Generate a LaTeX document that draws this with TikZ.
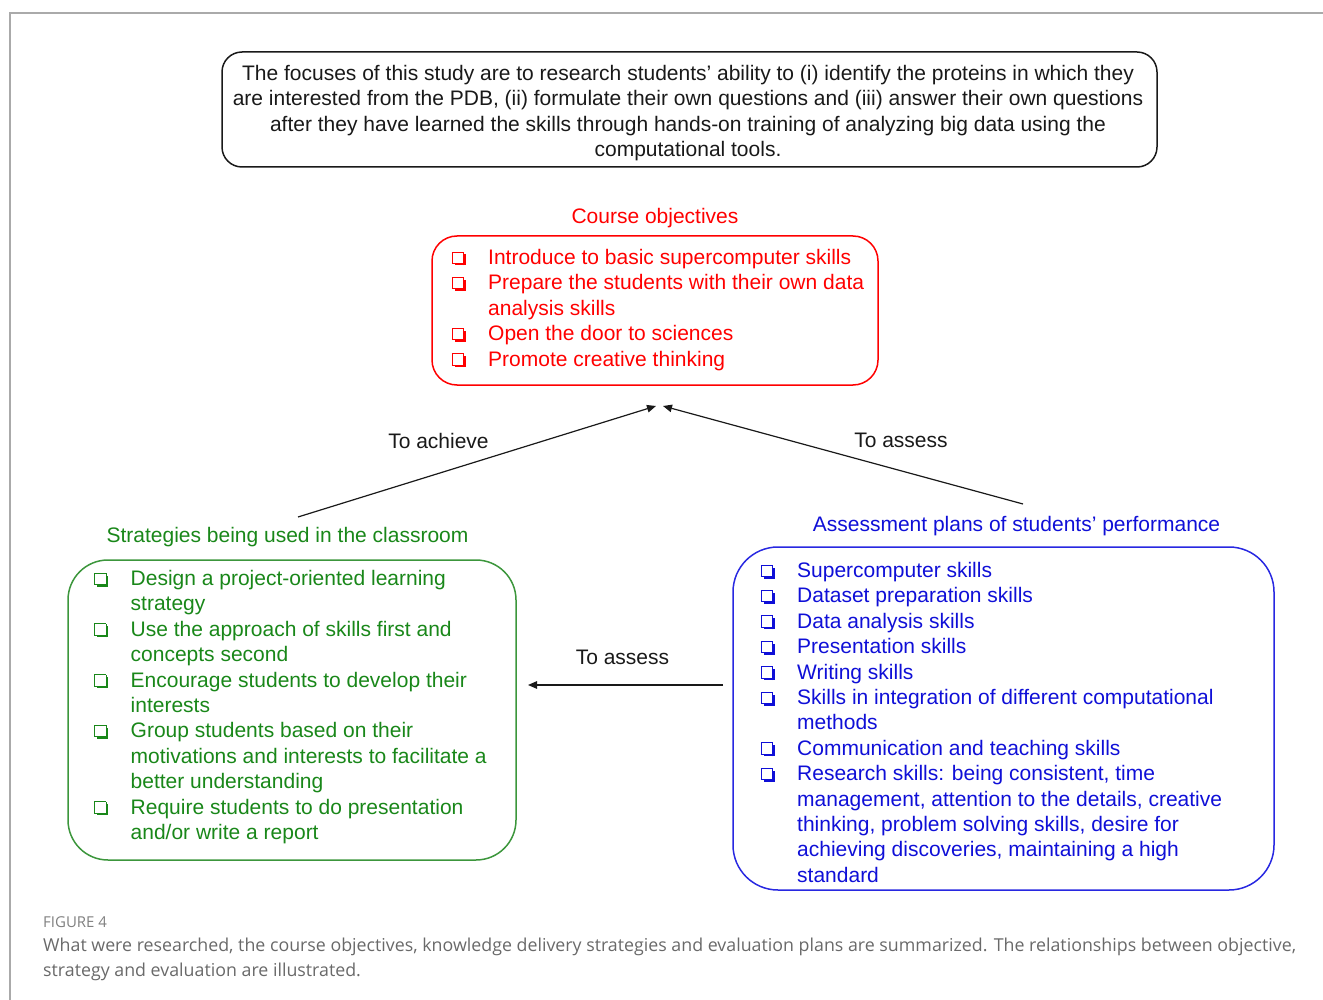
\documentclass[tikz,border=0pt]{standalone}
\usepackage{fontspec}
\setmainfont{Liberation Sans}
\newfontfamily\capfont{Open Sans}
\usetikzlibrary{arrows.meta}
\definecolor{objred}{RGB}{255,0,0}
\definecolor{strgreen}{RGB}{25,135,25}
\definecolor{strgreenb}{RGB}{60,150,60}
\definecolor{asblue}{RGB}{15,15,215}
\definecolor{asblueb}{RGB}{40,40,225}
\definecolor{framegray}{RGB}{170,170,170}
\definecolor{capgray}{RGB}{105,105,105}
\definecolor{txtdark}{RGB}{25,25,25}
\newcommand\sqbullet{{\setlength{\unitlength}{1pt}\setlength{\fboxrule}{1.4pt}\setlength{\fboxsep}{0pt}%
\raisebox{-1pt}{\begin{picture}(13.5,13.5)%
\put(0,2.5){\framebox(11,11){}}%
\put(11,0){\rule{2.5pt}{11pt}}%
\put(2.5,0){\rule{11pt}{2.5pt}}%
\end{picture}}}}
\newcommand\bl{\makebox[36pt][l]{\sqbullet}}
\newcommand\nb{\hspace*{36pt}}
\tikzset{
  mainfont/.style={font=\fontsize{21}{25.4}\selectfont},
  roundbox/.style={draw, line width=1.5pt, rectangle, inner sep=0pt},
  listtext/.style={mainfont, inner sep=0pt, anchor=base west},
  title/.style={mainfont, inner sep=0pt, anchor=base},
  lbl/.style={mainfont, inner sep=0pt, anchor=base, text=txtdark},
  conn/.style={draw=txtdark, line width=1.2pt, -{Triangle[length=9pt,width=7.5pt]}},
}
\begin{document}
\begin{tikzpicture}[x=1pt,y=-1pt]
\useasboundingbox (0,0) rectangle (1323,1000);
% frame
\draw[framegray, line width=1.5pt] (10,1000) -- (10,13) -- (1323,13);
% top box
\node[roundbox, draw=txtdark, rounded corners=20pt, minimum width=935pt, minimum height=115pt] (topbox) at (689.5,109.5) {};
\node[mainfont, inner sep=0pt, anchor=base, text=txtdark] (toptext) at (688,80.5) {\begin{tabular}[t]{@{}c@{}}
The focuses of this study are to research students’ ability to (i) identify the proteins in which they\\
are interested from the PDB, (ii) formulate their own questions and (iii) answer their own questions\\
after they have learned the skills through hands-on training of analyzing big data using the\\
computational tools.\end{tabular}};
% course objectives
\node[title, text=objred] (redtitle) at (655,223.5) {Course objectives};
\node[roundbox, draw=objred, rounded corners=25pt, minimum width=446pt, minimum height=149pt] (redbox) at (655,310.5) {};
\node[listtext, text=objred] (redlist) at (452,264.5) {\begin{tabular}[t]{@{}l@{}}
\bl Introduce to basic supercomputer skills\\
\bl Prepare the students with their own data\\
\nb analysis skills\\
\bl Open the door to sciences\\
\bl Promote creative thinking\end{tabular}};
% strategies
\node[title, text=strgreen] (greentitle) at (287.5,542.5) {Strategies being used in the classroom};
\node[roundbox, draw=strgreenb, rounded corners=40pt, minimum width=448pt, minimum height=300pt] (greenbox) at (292,710) {};
\node[listtext, text=strgreen] (greenlist) at (94.5,585.5) {\begin{tabular}[t]{@{}l@{}}
\bl Design a project-oriented learning\\
\nb strategy\\
\bl Use the approach of skills first and\\
\nb concepts second\\
\bl Encourage students to develop their\\
\nb interests\\
\bl Group students based on their\\
\nb motivations and interests to facilitate a\\
\nb better understanding\\
\bl Require students to do presentation\\
\nb and/or write a report\end{tabular}};
% assessment
\node[title, text=asblue] (bluetitle) at (1016.5,531.5) {Assessment plans of students’ performance};
\node[roundbox, draw=asblueb, rounded corners=45pt, minimum width=541pt, minimum height=343pt] (bluebox) at (1003.5,718.5) {};
\node[listtext, text=asblue] (bluelist) at (761,577.5) {\begin{tabular}[t]{@{}l@{}}
\bl Supercomputer skills\\
\bl Dataset preparation skills\\
\bl Data analysis skills\\
\bl Presentation skills\\
\bl Writing skills\\
\bl Skills in integration of different computational\\
\nb methods\\
\bl Communication and teaching skills\\
\bl Research skills: being consistent, time\\
\nb management, attention to the details, creative\\
\nb thinking, problem solving skills, desire for\\
\nb achieving discoveries, maintaining a high\\
\nb standard\end{tabular}};
% connectors
\coordinate (achstart) at (298,517);
\coordinate (achend) at (656,406);
\coordinate (asstart) at (1023,504);
\coordinate (asend) at (663,406);
\coordinate (midstart) at (723,685);
\coordinate (midend) at (528,685);
\draw[conn] (achstart) -- (achend);
\draw[conn] (asstart) -- (asend);
\draw[conn] (midstart) -- (midend);
\node[lbl] (lachieve) at (438.5,448.5) {To achieve};
\node[lbl] (lassess1) at (901,447.5) {To assess};
\node[lbl] (lassess2) at (622.5,664.5) {To assess};
% caption
\node[inner sep=0pt, anchor=base west, text=capgray!85, font=\capfont\fontsize{15}{16}\selectfont] (figlabel) at (43,927.5) {FIGURE 4};
\node[inner sep=0pt, anchor=base west, text=capgray, font=\capfont\fontsize{17.8}{24.5}\selectfont] (caption) at (43,951.5) {\begin{tabular}[t]{@{}l@{}}
What were researched, the course objectives, knowledge delivery strategies and evaluation plans are summarized. The relationships between objective,\\
strategy and evaluation are illustrated.\end{tabular}};
\end{tikzpicture}
\end{document}
